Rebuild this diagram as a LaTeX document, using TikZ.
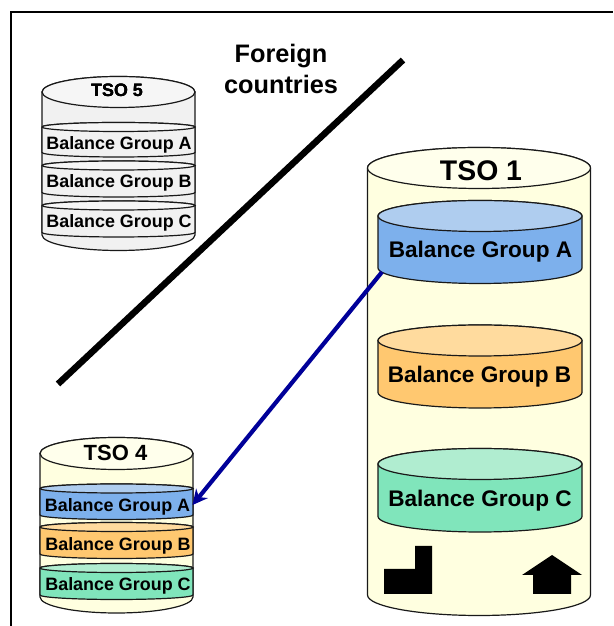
\documentclass[tikz,border=0pt]{standalone}
\usepackage{fontspec}
\setmainfont{Liberation Sans}
\usepackage{xcolor}
\usepackage{tikz}
\usetikzlibrary{arrows.meta}

\definecolor{palebody}{HTML}{FFFFE0}
\definecolor{palelid}{HTML}{FFFFEC}
\definecolor{greybody}{HTML}{F1F1F1}
\definecolor{greylid}{HTML}{F6F6F6}
\definecolor{bluebody}{HTML}{7DB0EC}
\definecolor{bluelid}{HTML}{AFCDEF}
\definecolor{orangebody}{HTML}{FFC870}
\definecolor{orangelid}{HTML}{FFDB9E}
\definecolor{greenbody}{HTML}{80E5BB}
\definecolor{greenlid}{HTML}{B0EDD0}
\definecolor{flowblue}{HTML}{000099}

% left, right, top centre, bottom centre, half height of the ellipse, colours
\newcommand{\drum}[7]{%
    \pgfmathsetmacro\rx{(#2-#1)/2}
    \filldraw[drumline, fill=#6] (#1,#3) -- (#1,#4)
        arc[start angle=180, end angle=360, x radius=\rx pt, y radius=#5pt]
        -- (#2,#3) arc[start angle=0, end angle=180, x radius=\rx pt, y radius=#5pt] -- cycle;
    \filldraw[drumline, fill=#7] (#1,#3)
        arc[start angle=180, end angle=540, x radius=\rx pt, y radius=#5pt];
}

\begin{document}
\begin{tikzpicture}[x=1pt, y=1pt,
    drumline/.style={draw=black!90, line width=1.2pt},
    biglabel/.style={font=\bfseries\fontsize{22.6}{26}\selectfont, inner sep=0pt},
    smalllabel/.style={font=\bfseries\fontsize{17.9}{21}\selectfont, inner sep=0pt}]

    \useasboundingbox (0,0) rectangle (613,626);

    % Frame, open to the right and the bottom
    \draw[line width=2pt] (11,0) -- (11,614) -- (613,614);

    % Border between the countries
    \coordinate (B1) at (58,242);
    \coordinate (B2) at (403,566);
    \draw[line width=6.5pt] (B1) -- (B2);

    \node (F1) [align=center, inner sep=0pt, font=\bfseries\fontsize{25.3}{31}\selectfont]
        at (281,557) {Foreign\\countries};

    % TSO 5
    \begin{scope}
        \drum{42}{195}{534}{391}{15.5}{greybody}{greylid}
        \foreach \t/\b in {499/473.5, 460.5/433.5, 420.5/393.5}
            \drum{42}{195}{\t}{\b}{4.5}{greybody}{greylid}
        \node (T5) [smalllabel] at (117,536) {TSO 5};
        \node (G5A) [smalllabel] at (119,481) {Balance Group A};
        \node (G5B) [smalllabel] at (119,443) {Balance Group B};
        \node (G5C) [smalllabel] at (119,403) {Balance Group C};
    \end{scope}

    % TSO 4
    \begin{scope}
        \drum{40}{193}{172.5}{29}{16}{palebody}{palelid}
        \drum{40}{193}{137.5}{111}{4.5}{bluebody}{bluelid}
        \drum{40}{193}{99}{72}{4.5}{orangebody}{orangelid}
        \drum{40}{193}{58}{31}{4.5}{greenbody}{greenlid}
        \node (T4) [smalllabel, font=\bfseries\fontsize{22}{26}\selectfont] at (115.5,173) {TSO 4};
        \node (G4A) [smalllabel] at (117.5,119) {Balance Group A};
        \node (G4B) [smalllabel] at (118,80) {Balance Group B};
        \node (G4C) [smalllabel] at (118,40) {Balance Group C};
    \end{scope}

    % TSO 1
    \begin{scope}
        \drum{367.5}{590.5}{458}{31}{20.5}{palebody}{palelid}
        \drum{378}{582}{410}{358}{15.5}{bluebody}{bluelid}
        \drum{378}{582}{285.5}{233.5}{15.5}{orangebody}{orangelid}
        \drum{378}{582}{162}{109.5}{15.5}{greenbody}{greenlid}
        \node (T1) [biglabel, font=\bfseries\fontsize{28.4}{32}\selectfont] at (481,455.5) {TSO 1};
        \node (G1A) [biglabel] at (480.5,374) {Balance Group A};
        \node (G1B) [biglabel] at (479.5,249) {Balance Group B};
        \node (G1C) [biglabel] at (480,125) {Balance Group C};

        % Factory and house
        \fill (384,32) -- (432,32) -- (432,80) -- (415,80) -- (415,57) -- (384,57) -- cycle;
        \fill (533,32) -- (571,32) -- (571,51) -- (582,51) -- (552,71)
            -- (522,51) -- (533,51) -- cycle;
    \end{scope}

    % Flow from TSO 1 to TSO 4
    \coordinate (A1) at (382,354);
    \coordinate (A4) at (192.5,121);
    \draw[flowblue, line width=4.2pt, -{Stealth[length=15pt, width=15pt]}] (A1) -- (A4);

\end{tikzpicture}
\end{document}
